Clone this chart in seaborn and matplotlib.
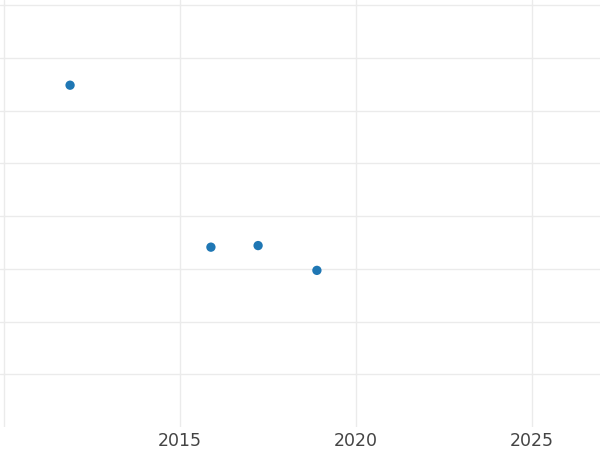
import matplotlib
matplotlib.use("Agg")
import matplotlib.pyplot as plt
import pandas as pd
import seaborn as sns

# values
years = [2011.88, 2015.88, 2017.22, 2018.89]
values = [6.48, 3.41, 3.44, 2.97]
x_ticks = [2010, 2015, 2020, 2025]
x_tick_labels = ["", "2015", "2020", "2025"]
y_ticks = [1, 2, 3, 4, 5, 6, 7, 8]

df = pd.DataFrame({"year": years, "value": values})

sns.set_style("whitegrid", {"grid.color": "#ebebeb", "axes.edgecolor": "white"})

fig = plt.figure(figsize=(6, 4.5), dpi=100)
ax = fig.add_axes([0.0, 0.051, 1.0, 0.949])

sns.scatterplot(data=df, x="year", y="value", ax=ax, color="#1f77b4",
                s=45, edgecolor="none", legend=False)

ax.set_xlim(2009.89, 2026.93)
ax.set_ylim(0, 8.095)
ax.set_xticks(x_ticks)
ax.set_xticklabels(x_tick_labels)
ax.set_yticks(y_ticks)
ax.set_yticklabels([])
ax.grid(True, linewidth=1.0, color="#ebebeb")
ax.tick_params(axis="x", length=0, labelsize=12.5, labelcolor="#444444", pad=3.5)
ax.tick_params(axis="y", length=0)
ax.set_xlabel("")
ax.set_ylabel("")
for s in ax.spines.values():
    s.set_visible(False)

fig.savefig("out.png", dpi=100)
